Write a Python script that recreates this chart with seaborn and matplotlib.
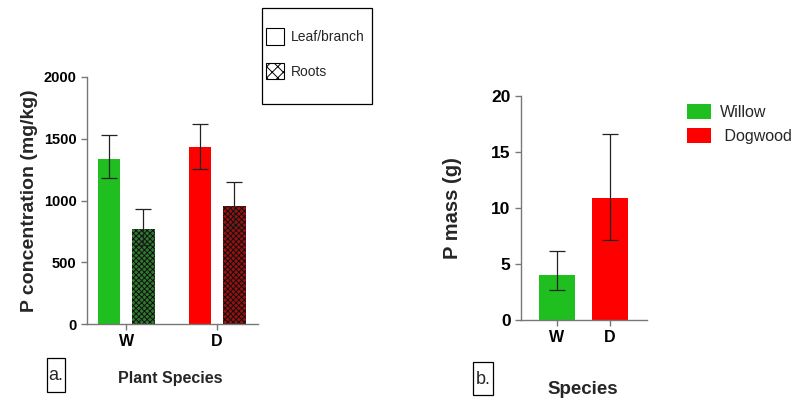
import matplotlib
matplotlib.use("Agg")
import matplotlib.pyplot as plt
from matplotlib.patches import Patch, Rectangle
import seaborn as sns
import pandas as pd

# ---------------- data ----------------
species = ["W", "D"]
tissues = ["Leaf/branch", "Roots"]
conc_leaf = [1340, 1430]
conc_leaf_lo = [1180, 1255]
conc_leaf_hi = [1530, 1620]
conc_root = [770, 955]
conc_root_lo = [640, 790]
conc_root_hi = [930, 1150]

mass = [4.05, 10.9]
mass_lo = [2.7, 7.1]
mass_hi = [6.2, 16.6]
legend_species = ["Willow", " Dogwood"]

# ---------------- style ----------------
FONT = "Liberation Sans"
sns.set_theme(style="ticks")
plt.rcParams["font.family"] = [FONT, "DejaVu Sans"]
plt.rcParams["hatch.linewidth"] = 0.7
GREEN = "#1fbf1f"
RED = "#ff0000"
DGREEN = "#2f7a2f"
DRED = "#9a1010"
SPINE = "#777777"

fig = plt.figure(figsize=(7.99, 4.0), dpi=100)
axA = fig.add_axes([87/799, 1-324/400, (258-87)/799, (324-77)/400])
axB = fig.add_axes([521/799, 1-320/400, (647-521)/799, (320-96)/400])

# ---------------- panel a ----------------
dfA = pd.DataFrame({
    "Species": species * 2,
    "Tissue": [tissues[0]] * 2 + [tissues[1]] * 2,
    "Value": conc_leaf + conc_root,
})
sns.barplot(data=dfA, x="Species", y="Value", hue="Tissue", order=species,
            hue_order=tissues, errorbar=None, width=0.75, gap=0.33,
            legend=False, ax=axA, linewidth=0, saturation=1)
pA = axA.patches[:4]
faces = [GREEN, RED, DGREEN, DRED]
for p, fc in zip(pA, faces):
    p.set_facecolor(fc)
    p.set_linewidth(0)
for p in pA[2:]:
    p.set_hatch("xxxxxx")
    p.set_edgecolor("#111111")
lows = conc_leaf_lo + conc_root_lo
highs = conc_leaf_hi + conc_root_hi
vals = conc_leaf + conc_root
for p, v, lo, hi in zip(pA, vals, lows, highs):
    cx = p.get_x() + p.get_width() / 2
    axA.errorbar([cx], [v], yerr=[[v - lo], [hi - v]], fmt="none",
                 ecolor="#222222", elinewidth=0.9, capsize=6, capthick=0.9, zorder=5)
axA.set_ylim(0, 2000)
axA.set_yticks([0, 500, 1000, 1500, 2000])
axA.set_xlim(-0.43, 1.45)
axA.set_ylabel("P concentration (mg/kg)", fontsize=14, fontweight="bold", labelpad=4)
axA.set_xlabel("")

# ---------------- panel b ----------------
dfB = pd.DataFrame({"Species": species, "Value": mass})
sns.barplot(data=dfB, x="Species", y="Value", hue="Species", palette=[GREEN, RED],
            order=species, errorbar=None, width=0.67, legend=False, ax=axB,
            linewidth=0, saturation=1)
for p, v, lo, hi in zip(axB.patches[:2], mass, mass_lo, mass_hi):
    cx = p.get_x() + p.get_width() / 2
    axB.errorbar([cx], [v], yerr=[[v - lo], [hi - v]], fmt="none",
                 ecolor="#222222", elinewidth=0.9, capsize=5.5, capthick=0.9, zorder=5)
axB.set_ylim(0, 20)
axB.set_yticks([0, 5, 10, 15, 20])
axB.set_xlim(-0.68, 1.70)
axB.set_ylabel("P mass (g)", fontsize=14.5, fontweight="bold", labelpad=21)
axB.set_xlabel("")

for ax, fs in ((axA, 10.5), (axB, 12.5)):
    sns.despine(ax=ax)
    for s in ("left", "bottom"):
        ax.spines[s].set_color(SPINE)
        ax.spines[s].set_linewidth(1.0)
    ax.tick_params(axis="both", colors=SPINE, length=4, width=1.0, labelcolor="black")
    ax.tick_params(axis="y", labelsize=fs)
    ax.tick_params(axis="x", labelsize=11.5)
    for t in ax.get_xticklabels() + ax.get_yticklabels():
        t.set_fontweight("bold")

# ---------------- legends ----------------
fig.add_artist(Rectangle((262/799, 1-104/400), (372-262)/799, (104-8)/400,
                         transform=fig.transFigure, fill=False, edgecolor="black",
                         linewidth=0.9))
hA = [Patch(facecolor="white", edgecolor="black", linewidth=0.8),
      Patch(facecolor="white", edgecolor="black", linewidth=0.8, hatch="xxx")]
fig.legend(hA, tissues, loc="upper left", bbox_to_anchor=(262/799, 1-24/400),
           frameon=False, fontsize=10, handlelength=1.25, handleheight=1.45,
           handletextpad=0.55, labelspacing=1.3, borderaxespad=0, borderpad=0.3)

hB = [Patch(facecolor=GREEN, linewidth=0), Patch(facecolor=RED, linewidth=0)]
fig.legend(hB, legend_species, loc="upper left",
           bbox_to_anchor=(684/799, 1-101/400), frameon=False, fontsize=11.5,
           handlelength=1.5, handleheight=1.05, handletextpad=0.55,
           labelspacing=0.5, borderaxespad=0, borderpad=0.2)

# ---------------- panel labels ----------------
fig.add_artist(Rectangle((47/799, 1-392/400), 18/799, 34/400, transform=fig.transFigure,
                         fill=False, edgecolor="black", linewidth=0.9))
fig.text(56/799, 1-376/400, "a.", ha="center", va="center", fontsize=13)
fig.text(170/799, 1-379/400, "Plant Species", ha="center", va="center",
         fontsize=11.5, fontweight="bold")
fig.add_artist(Rectangle((473/799, 1-395/400), 20/799, 33/400, transform=fig.transFigure,
                         fill=False, edgecolor="black", linewidth=0.9))
fig.text(483/799, 1-380/400, "b.", ha="center", va="center", fontsize=13)
fig.text(583/799, 1-389/400, "Species", ha="center", va="center",
         fontsize=13.5, fontweight="bold")

fig.savefig("out.png", dpi=100)
